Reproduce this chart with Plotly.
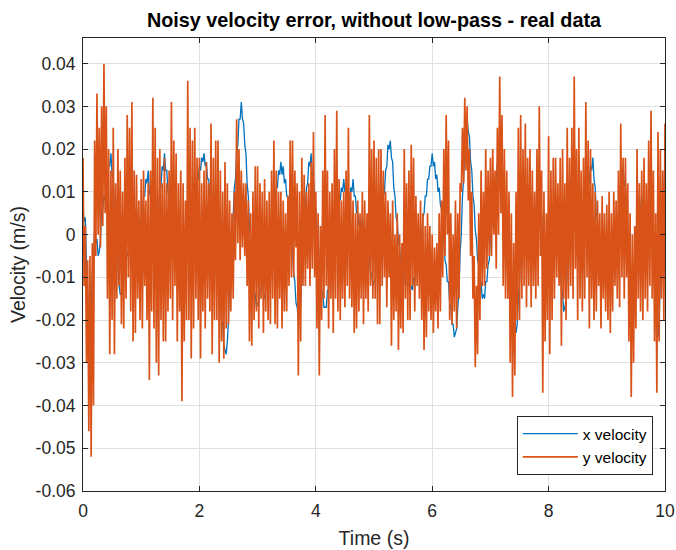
import numpy as np
import plotly.graph_objects as go

# x velocity (mm/s), one value every 0.02 s from 0 to 10 s
x_vel_mm_s = [
    6, 3, 4, -7, -14, -21, -24, -19, -9, -6,
    1, -2, -1, -5, -4, -1, 6, 6, 9, 8,
    11, 11, 16, 16, 19, 14, 13, 6, 3, -4,
    -7, -12, -14, -14, -11, -10, -5, -6, -4, -5,
    -2, -2, 1, 2, 6, 4, 6, 3, 4, 1,
    3, 4, 9, 9, 13, 12, 15, 10, 9, 3,
    1, -4, -4, -3, 3, 5, 11, 11, 16, 15,
    19, 15, 15, 10, 9, 4, 4, -1, -1, -4,
    -4, -8, -7, -10, -9, -10, -7, -7, -3, -4,
    -1, -1, 3, 3, 7, 6, 9, 9, 13, 13,
    16, 15, 18, 17, 19, 16, 17, 13, 13, 9,
    9, 5, 5, 1, 1, -4, -5, -12, -14, -20,
    -21, -26, -27, -28, -25, -20, -11, -7, 1, 4,
    11, 13, 19, 21, 27, 27, 31, 27, 26, 21,
    19, 12, 9, 2, -1, -7, -9, -13, -14, -17,
    -16, -16, -13, -13, -9, -14, -15, -13, -7, -6,
    -1, -1, 3, 2, 6, 7, 11, 11, 15, 14,
    17, 14, 16, 12, 13, 9, 9, 4, 3, -2,
    -4, -9, -11, -16, -17, -20, -19, -16, -9, -5,
    3, 5, 11, 12, 17, 16, 19, 14, 13, 7,
    6, 1, -1, -7, -9, -13, -14, -17, -17, -17,
    -13, -13, -9, -8, -4, -3, 3, 3, 7, 6,
    9, 8, 11, 10, 13, 10, 11, 8, 9, 8,
    11, 10, 13, 9, 9, 5, 5, 2, 3, 1,
    4, 1, 1, -3, -2, -5, -5, -9, -9, -12,
    -11, -11, -7, -6, -1, -1, 4, 5, 9, 10,
    15, 16, 21, 20, 22, 18, 17, 11, 9, 4,
    3, -2, -3, -7, -7, -10, -9, -12, -11, -12,
    -9, -13, -12, -13, -10, -11, -8, -9, -7, -7,
    -2, -1, 4, 5, 9, 9, 13, 13, 16, 16,
    19, 16, 17, 13, 14, 10, 11, 7, 6, 1,
    -1, -6, -7, -11, -11, -16, -17, -21, -21, -24,
    -23, -22, -17, -13, -4, 0, 9, 13, 21, 23,
    27, 24, 23, 17, 15, 9, 7, 1, -1, -6,
    -7, -11, -11, -15, -14, -15, -11, -11, -7, -6,
    -1, 1, 6, 7, 13, 13, 17, 16, 19, 15,
    15, 10, 9, 4, 3, -2, -3, -8, -9, -15,
    -17, -22, -23, -21, -15, -11, -4, -3, 3, 3,
    7, 4, 4, 0, -1, -5, -5, -6, -3, -2,
    3, 4, 9, 5, 5, -3, -7, -11, -11, -10,
    -5, -3, 3, 3, 7, 4, 4, -1, -1, -6,
    -7, -12, -14, -18, -17, -15, -9, -7, -1, 0,
    5, 5, 9, 6, 7, 2, 1, -4, -4, -3,
    3, 4, 9, 9, 13, 12, 16, 15, 18, 13,
    11, 5, 3, -2, -3, -7, -7, -10, -9, -9,
    -5, -5, -1, -6, -7, -11, -11, -10, -5, -2,
    5, 7, 13, 13, 16, 12, 11, 4, 1, -7,
    -11, -16, -17, -15, -9, -6, 1, 1, 6, 6,
    9, 5, 5, 1, 1, 2, 7, 7, 11, 1,
    -4, -11, -14, -21, -24, -19, -11, -6, 3, 9,
    18,
]

# y velocity (mm/s), one value every 0.02 s from 0 to 10 s
y_vel_mm_s = [
    18, -12, 2, -30, -6, -46, -5, -52, -2, -40,
    22, -5, 33, 0, 25, -3, 30, 2, 40, 5,
    30, -15, 20, -28, 15, -20, 25, -28, 12, -15,
    20, -12, 15, -21, 10, -22, 18, -15, 28, -10,
    25, -18, 31, -25, 15, -23, 14, -15, 8, -20,
    13, -22, 15, -12, 8, -20, 12, -34, 15, -18,
    32, -22, 25, -30, 18, -33, 20, -20, 12, -25,
    18, -25, 12, -18, 15, -15, 31, -20, 22, -12,
    19, -25, 12, -18, 15, -39, 12, -25, 8, -20,
    36, -20, 25, -29, 22, -22, 25, -15, 18, -20,
    18, -29, 12, -18, 15, -22, 17, -15, 12, -18,
    26, -28, 18, -20, 22, -20, 22, -30, 15, -25,
    10, -29, 17, -22, 12, -21, 8, -18, 5, -15,
    10, -6, 27, -2, 20, -6, 15, -3, 12, -5,
    12, -12, 8, -25, 5, -26, 10, -20, 16, -18,
    16, -22, 12, -15, 10, -23, 13, -18, 8, -20,
    10, -21, 15, -15, 22, -21, 15, -22, 10, -15,
    10, -22, 8, -18, 5, -18, 9, -12, 22, -10,
    22, -10, 15, -3, 12, -33, 10, -25, 18, -12,
    14, -12, 10, -8, 12, -12, 17, -8, 24, -10,
    10, -22, 5, -33, 2, -20, 15, -15, 28, -12,
    15, -22, 10, -15, 12, -23, 20, -15, 29, -18,
    13, -20, 8, -15, 10, -17, 15, -12, 25, -15,
    10, -17, 8, -23, 5, -22, 8, -18, 5, -15,
    10, -21, 8, -15, 5, -18, 28, -12, 20, -15,
    22, -15, 18, -21, 20, -21, 20, -12, 15, -10,
    10, -17, 8, -10, 5, -26, 8, -20, 0, -18,
    5, -27, 0, -22, -2, -23, 20, -15, 12, -20,
    15, -20, 21, -12, 18, -18, 9, -12, 5, -15,
    8, -20, 5, -27, 2, -24, 5, -18, 2, -20,
    0, -23, -3, -18, -2, -22, 5, -18, 8, -10,
    20, -5, 28, 0, 22, -20, 5, -21, 0, -18,
    8, -22, 5, -15, 12, 10, 25, 12, 32, 15,
    30, 8, 20, -5, 10, -15, -5, -31, -12, -28,
    5, -20, 15, -12, 10, -12, 20, -8, 15, -5,
    18, -5, 20, 0, 15, -8, 25, 0, 37, 5,
    28, -12, 20, -15, 15, -15, 10, -30, 5, -38,
    -2, -33, 10, -20, 25, -20, 28, -15, 20, -12,
    26, -17, 18, -12, 20, -17, 15, -12, 10, -15,
    20, -12, 30, -5, 15, -37, 10, -25, 5, -20,
    23, -28, 15, -20, 18, -15, 18, -10, 12, -12,
    18, -26, 20, -15, 12, -20, 25, -15, 18, -12,
    25, -15, 37, -8, 20, -20, 25, -15, 15, -18,
    18, -15, 31, -10, 22, -22, 20, -15, 12, -20,
    10, -18, 8, -12, 5, -22, 9, -15, 5, -18,
    7, -20, 10, -23, 5, -18, 10, -12, 8, -15,
    15, -17, 26, -10, 18, -15, 18, -10, 12, -25,
    5, -38, 0, -30, 2, -22, 20, -15, 12, -18,
    15, -20, 18, -15, 12, -18, 22, -12, 29, -15,
    15, -25, 5, -37, 24, -25, 20, -15, 15, -20,
    26,
]

# Axis ticks
x_tick_vals = [0, 2, 4, 6, 8, 10]
x_tick_text = ["0", "2", "4", "6", "8", "10"]
y_tick_vals = [-0.06, -0.05, -0.04, -0.03, -0.02, -0.01, 0, 0.01, 0.02, 0.03, 0.04]
y_tick_text = ["-0.06", "-0.05", "-0.04", "-0.03", "-0.02", "-0.01", "0",
               "0.01", "0.02", "0.03", "0.04"]

# uniformly sampled time axis (s)
t_x = np.linspace(0.0, 10.0, len(x_vel_mm_s))
t_y = np.linspace(0.0, 10.0, len(y_vel_mm_s))
vx = np.array(x_vel_mm_s) / 1000.0   # mm/s -> m/s
vy = np.array(y_vel_mm_s) / 1000.0

FONT = "Liberation Sans, Arial, Helvetica, sans-serif"
AX = "#262626"

fig = go.Figure()
fig.add_trace(go.Scatter(x=t_x, y=vx, mode="lines", name="x velocity",
                         line=dict(color="#0072BD", width=1.3, simplify=False)))
fig.add_trace(go.Scatter(x=t_y, y=vy, mode="lines", name="y velocity",
                         line=dict(color="#D95319", width=1.7, simplify=False)))

axis_common = dict(
    showline=True, linecolor=AX, linewidth=1, mirror="ticks",
    ticks="inside", ticklen=5, tickcolor=AX, tickwidth=1,
    showgrid=True, gridcolor="#e0e0e0", gridwidth=1, zeroline=False,
    tickfont=dict(family=FONT, size=17.5, color=AX), automargin=False,
)

fig.update_layout(
    width=676, height=550,
    margin=dict(l=83, r=11, t=38, b=59),
    paper_bgcolor="white", plot_bgcolor="white",
    title=dict(text="<b>Noisy velocity error, without low-pass - real data</b>",
               x=0.5, xref="paper", xanchor="center",
               y=1 - 20 / 550, yref="container", yanchor="middle",
               font=dict(family=FONT, size=19.8, color="black")),
    xaxis=dict(range=[0, 10], tickvals=x_tick_vals, ticktext=x_tick_text,
               ticklabelstandoff=4,
               title=dict(text="Time (s)", font=dict(family=FONT, size=19.5, color=AX),
                          standoff=11),
               **axis_common),
    yaxis=dict(range=[-0.06, 0.046], tickvals=y_tick_vals, ticktext=y_tick_text,
               ticklabelstandoff=3,
               title=dict(text="Velocity (m/s)", font=dict(family=FONT, size=19.5, color=AX),
                          standoff=4),
               **axis_common),
    legend=dict(x=0.979, y=0.035, xanchor="right", yanchor="bottom",
                bgcolor="white", bordercolor=AX, borderwidth=1,
                font=dict(family=FONT, size=15.5, color="black"),
                tracegroupgap=0, itemwidth=55),
    showlegend=True,
)

fig.write_html("out.html")
